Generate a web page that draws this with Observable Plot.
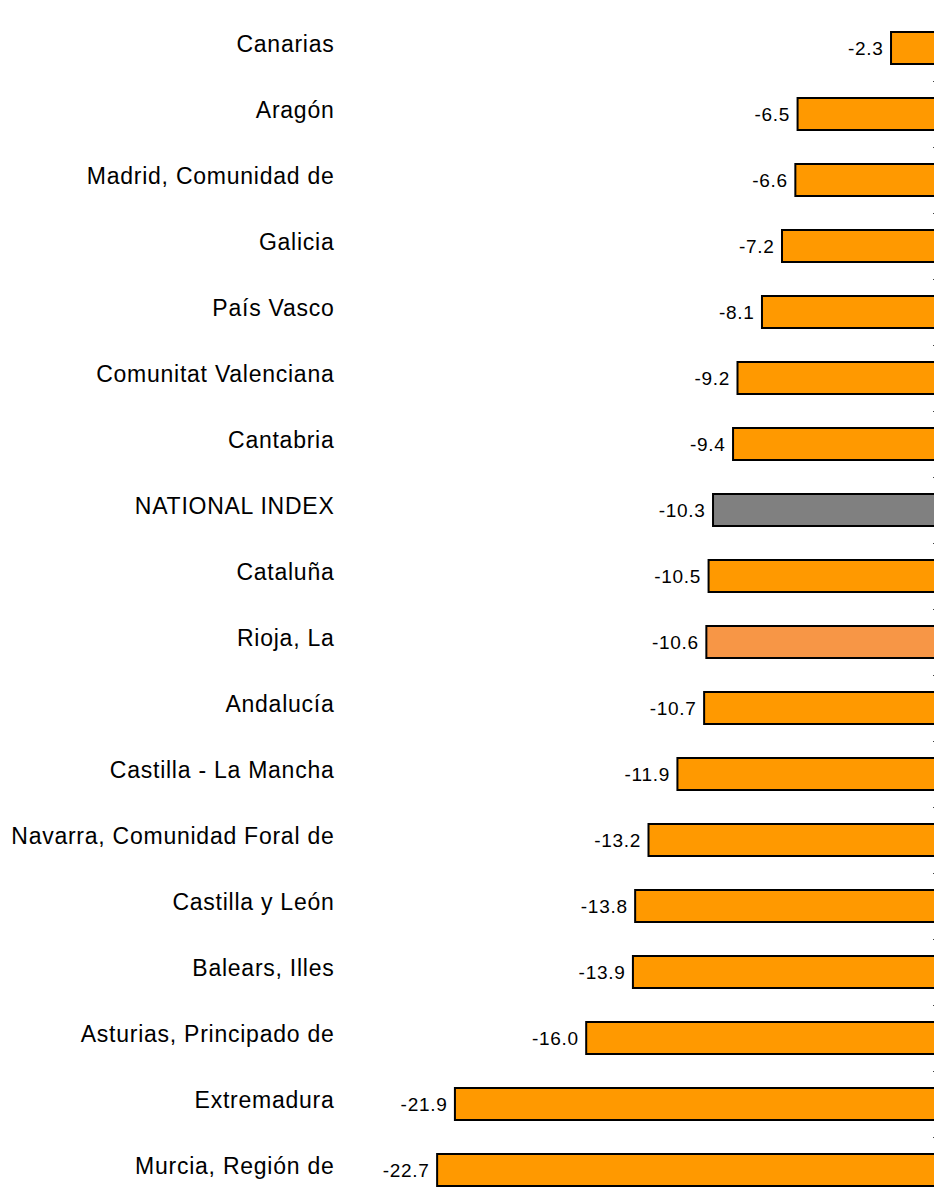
<!DOCTYPE html>
<html>
<head>
<meta charset="utf-8">
<script src="https://cdn.jsdelivr.net/npm/d3@7"></script>
<script src="https://cdn.jsdelivr.net/npm/@observablehq/plot@0.6"></script>
<style>
  html, body { margin: 0; padding: 0; background: #fff; overflow: hidden; }
  g[aria-label="y-axis tick label"] text { letter-spacing: 0.75px; }
  g[aria-label="text"] text { letter-spacing: 0.7px; }
</style>
</head>
<body>
<div id="chart"></div>
<script>
const regions = [
  "Canarias", "Aragón", "Madrid, Comunidad de", "Galicia", "País Vasco",
  "Comunitat Valenciana", "Cantabria", "NATIONAL INDEX", "Cataluña", "Rioja, La",
  "Andalucía", "Castilla - La Mancha", "Navarra, Comunidad Foral de", "Castilla y León",
  "Balears, Illes", "Asturias, Principado de", "Extremadura", "Murcia, Región de"
];
const values = [-2.3, -6.5, -6.6, -7.2, -8.1, -9.2, -9.4, -10.3, -10.5, -10.6,
  -10.7, -11.9, -13.2, -13.8, -13.9, -16.0, -21.9, -22.7];
const highlight = { "NATIONAL INDEX": "#808080", "Rioja, La": "#F79646" };
const baseColor = "#FF9900";

const data = regions.map((r, i) => ({ region: r, value: values[i], color: highlight[r] || baseColor }));

const chart = Plot.plot({
  width: 934,
  height: 1196,
  marginLeft: 340,
  marginRight: 0,
  marginTop: 0,
  marginBottom: 0,
  style: { fontFamily: "'Liberation Sans', Arial, sans-serif", background: "#fff", color: "#000" },
  x: { domain: [-23, 0], range: [430.45, 942.2], axis: null },
  y: { domain: regions, range: [13.97, 1203.03], paddingInner: 0.52, paddingOuter: 0.26, label: null },
  marks: [
    Plot.barX(data, { x1: "value", x2: 0, y: "region", fill: "color", stroke: "#000", strokeWidth: 2 }),
    Plot.text(data, { x: "value", y: "region", text: d => d.value.toFixed(1), textAnchor: "end", dx: -8, fontSize: 19, fill: "#000" }),
    Plot.axisY({ anchor: "left", tickSize: 0, tickPadding: 6, fontSize: 23, dy: -4, label: null }),
    Plot.axisY({ anchor: "right", tickSize: -2, dy: 33, tickFormat: () => "", stroke: "#444", label: null })
  ]
});
document.getElementById("chart").appendChild(chart);
</script>
</body>
</html>
